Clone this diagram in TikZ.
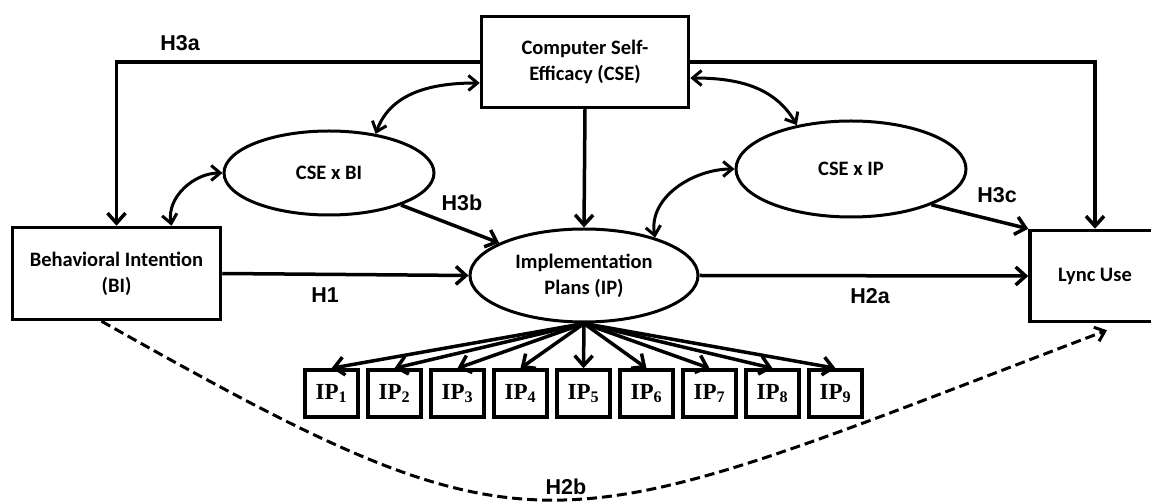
\documentclass[tikz,border=0pt]{standalone}
\usepackage{fontspec}
\setmainfont{Carlito}
\newfontfamily\hypfont{Liberation Sans}
\newfontfamily\itemfont{Liberation Serif}
\usetikzlibrary{arrows.meta,shapes.geometric}

\begin{document}
\begin{tikzpicture}
  [x=1pt,y=1pt,
   box/.style={draw,line width=3.5pt,align=center,inner sep=0pt,font=\fontsize{20.5}{26}\selectfont\bfseries},
   latent/.style={ellipse,draw,line width=3pt,align=center,inner sep=0pt,font=\fontsize{20.5}{26}\selectfont\bfseries},
   itembox/.style={draw,line width=3.5pt,minimum width=53pt,minimum height=47pt,inner sep=0pt,font=\itemfont\fontsize{23}{26}\selectfont\bfseries},
   hyp/.style={inner sep=0pt,font=\hypfont\fontsize{21.5}{25}\selectfont\bfseries},
   arr/.style={line width=3.5pt,-{Straight Barb[length=10pt,width=18pt]}},
   dbl/.style={line width=3pt,{Straight Barb[length=9pt,width=15pt]}-{Straight Barb[length=9pt,width=15pt]}},
   dash line/.style={line width=3pt,dash pattern=on 10pt off 5pt,-{Straight Barb[length=9pt,width=15pt]}}]

  \useasboundingbox (0,0) rectangle (1151,503);
  \clip (0,0) rectangle (1151,503);

  \node[box,minimum width=207pt,minimum height=91pt] (cse) at (585,441) {Computer Self-\\Efficacy (CSE)};
  \node[box,minimum width=208pt,minimum height=92pt] (bi) at (116.5,229.5) {Behavioral Intention\\(BI)};
  \node[box,minimum width=130pt,minimum height=91pt] (lync) at (1095,227) {Lync Use};
  \node[latent,minimum width=210pt,minimum height=84pt] (csebi) at (329,330) {CSE x BI};
  \node[latent,minimum width=230pt,minimum height=96pt] (cseip) at (851,334) {CSE x IP};
  \node[latent,minimum width=228pt,minimum height=93pt] (plans) at (584,227.5) {Implementation\\Plans (IP)};

  \foreach \k in {1,...,9}
    \node[itembox] (ip\k) at ({268.5+63*\k},109.5) {IP\textsubscript{\k}};

  \node[hyp] (h3a) at (180,460) {H3a};
  \node[hyp] (h3b) at (462,300) {H3b};
  \node[hyp] (h3c) at (997,308) {H3c};
  \node[hyp] (h1) at (325,208) {H1};
  \node[hyp] (h2a) at (870,207) {H2a};
  \node[hyp] (h2b) at (566,16) {H2b};

  \draw[arr] (cse.west) -| (bi.north);
  \draw[arr] (cse.east) -| (lync.north);
  \draw[arr] (cse.south) -- (plans.north);
  \draw[arr] (bi.east) -- (plans.west);
  \draw[arr] (plans.east) -- (lync.west);
  \draw[arr] (csebi.-24) -- (plans.159);
  \draw[arr] (cseip.-24) -- (lync.north west);

  \foreach \k in {1,...,9}
    \draw[arr] (plans.south) -- (ip\k.north);

  \draw[dbl] ([yshift=-21pt]cse.west) to[out=180,in=70] (csebi.40);
  \draw[dbl] ([yshift=-16pt]cse.east) to[out=0,in=120] (cseip.141);
  \draw[dbl] ([xshift=55pt]bi.north) to[out=100,in=180] (csebi.west);
  \draw[dbl] (plans.28) to[out=100,in=180] (cseip.west);

  \draw[dash line] ([xshift=-15pt]bi.south) .. controls (547,-69) and (544,-41) .. ([xshift=12pt,yshift=-7pt]lync.south);

\end{tikzpicture}
\end{document}
